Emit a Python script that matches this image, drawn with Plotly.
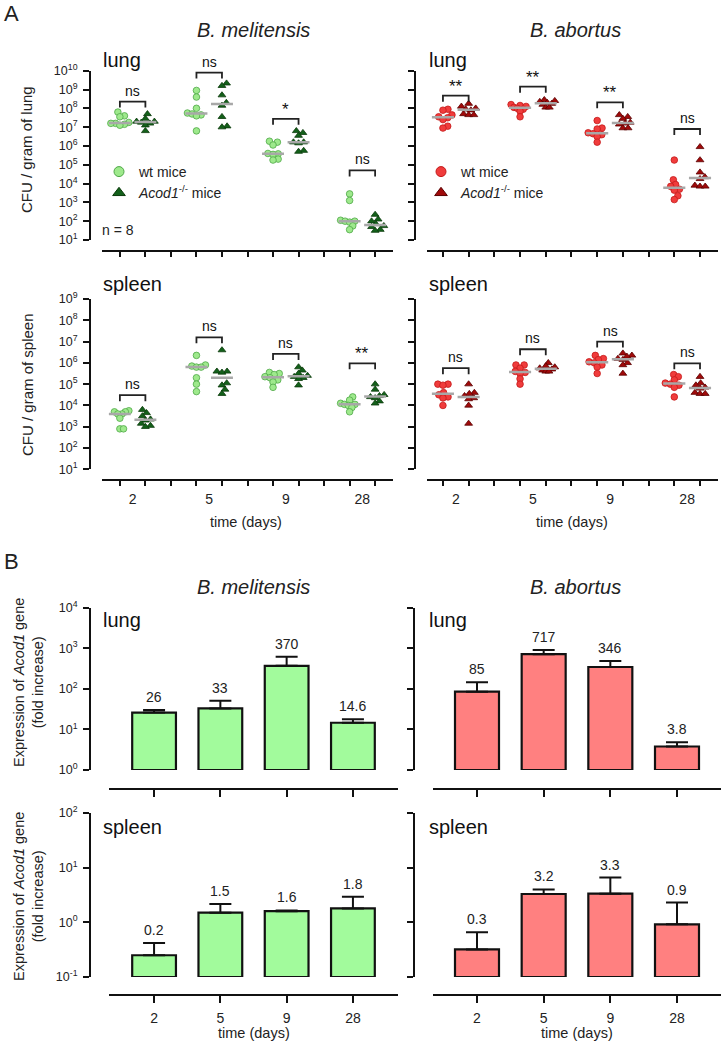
import numpy as np
import plotly.graph_objects as go

W, H = 726, 1043
FONT = "Liberation Sans, Arial, sans-serif"

# ---------------- DATA ----------------
days = ["2", "5", "9", "28"]

# Panel A: log10 CFU per gram, n = 8 per group (order: day 2, 5, 9, 28)
mel_lung_wt = [[7.8, 7.6, 7.55, 7.25, 7.2, 7.2, 7.15, 7.1],
               [8.95, 8.6, 8.0, 7.75, 7.7, 7.65, 7.6, 6.8],
               [6.25, 6.2, 6.05, 5.6, 5.58, 5.55, 5.3, 5.25],
               [3.45, 3.1, 2.05, 2.0, 2.0, 1.95, 1.75, 1.55]]
mel_lung_ko = [[7.7, 7.45, 7.3, 7.3, 7.25, 7.2, 7.1, 6.8],
               [9.33, 9.2, 8.7, 8.3, 8.15, 7.55, 7.05, 7.0],
               [6.8, 6.7, 6.55, 6.2, 6.2, 6.15, 5.75, 5.7],
               [2.35, 2.1, 2.0, 1.85, 1.75, 1.7, 1.55, 1.5]]
ab_lung_wt = [[7.95, 7.9, 7.65, 7.55, 7.5, 7.4, 7.05, 6.95],
              [8.2, 8.15, 8.1, 8.05, 8.0, 7.95, 7.85, 7.55],
              [7.35, 6.95, 6.9, 6.7, 6.65, 6.6, 6.5, 6.2],
              [5.25, 4.2, 3.95, 3.85, 3.7, 3.65, 3.35, 3.15]]
ab_lung_ko = [[8.25, 8.1, 8.0, 7.95, 7.9, 7.7, 7.65, 7.65],
              [8.45, 8.4, 8.35, 8.3, 8.25, 8.2, 8.05, 8.05],
              [7.65, 7.55, 7.45, 7.25, 7.2, 7.15, 6.95, 6.95],
              [5.95, 5.25, 4.6, 4.35, 4.25, 3.9, 3.85, 3.85]]
mel_spleen_wt = [[3.75, 3.7, 3.7, 3.6, 3.6, 3.4, 2.9, 2.9],
                 [6.35, 5.9, 5.85, 5.8, 5.8, 5.3, 5.0, 4.65],
                 [5.55, 5.5, 5.45, 5.35, 5.3, 5.2, 5.1, 4.85],
                 [4.4, 4.25, 4.1, 4.05, 4.05, 4.0, 3.9, 3.7]]
mel_spleen_ko = [[3.8, 3.65, 3.5, 3.35, 3.3, 3.15, 3.05, 3.0],
                 [6.6, 5.6, 5.6, 5.55, 5.05, 4.95, 4.75, 4.55],
                 [5.8, 5.65, 5.5, 5.4, 5.35, 5.3, 5.25, 4.95],
                 [5.0, 4.75, 4.5, 4.45, 4.4, 4.35, 4.2, 4.1]]
ab_spleen_wt = [[5.0, 5.0, 4.95, 4.6, 4.5, 4.4, 4.35, 4.0],
                [5.9, 5.9, 5.75, 5.6, 5.55, 5.5, 5.25, 5.0],
                [6.35, 6.2, 6.15, 6.05, 6.0, 5.9, 5.8, 5.5],
                [5.45, 5.35, 5.2, 5.05, 5.0, 4.95, 4.85, 4.4]]
ab_spleen_ko = [[5.0, 4.6, 4.55, 4.45, 4.35, 4.3, 4.0, 3.15],
                [6.0, 5.85, 5.8, 5.75, 5.7, 5.65, 5.6, 5.6],
                [6.45, 6.35, 6.3, 6.2, 6.15, 6.0, 5.9, 5.5],
                [5.35, 5.05, 4.95, 4.85, 4.8, 4.6, 4.55, 4.55]]

# significance labels and bracket heights (log10)
mel_lung_sig = ["ns", "ns", "*", "ns"]
ab_lung_sig = ["**", "**", "**", "ns"]
mel_spleen_sig = ["ns", "ns", "ns", "**"]
ab_spleen_sig = ["ns", "ns", "ns", "ns"]
mel_lung_brk = [8.36, 9.9, 7.44, 4.7]
ab_lung_brk = [8.67, 9.15, 8.32, 6.9]
mel_spleen_brk = [4.48, 7.2, 6.42, 5.98]
ab_spleen_brk = [5.75, 6.64, 7.0, 5.98]

# Panel B: Acod1 expression (fold increase), upper error bar tops, labels
mel_lung_fold = [26, 33, 370, 14.6]
mel_lung_err = [30, 51, 620, 17.8]
mel_lung_lbl = ["26", "33", "370", "14.6"]
ab_lung_fold = [85, 717, 346, 3.8]
ab_lung_err = [145, 910, 485, 4.8]
ab_lung_lbl = ["85", "717", "346", "3.8"]
mel_spleen_fold = [0.25, 1.5, 1.6, 1.8]
mel_spleen_err = [0.42, 2.17, 1.65, 2.95]
mel_spleen_lbl = ["0.2", "1.5", "1.6", "1.8"]
ab_spleen_fold = [0.32, 3.3, 3.35, 0.92]
ab_spleen_err = [0.66, 4.0, 6.6, 2.3]
ab_spleen_lbl = ["0.3", "3.2", "3.3", "0.9"]

# ---------------- STYLE ----------------
WT_G, WT_G_E = "#9ee98c", "#4fa848"
KO_G, KO_G_E = "#13601a", "#0a3a0a"
WT_R, WT_R_E = "#f03c3c", "#c41a1a"
KO_R, KO_R_E = "#a00a0a", "#5a0000"
BAR_G, BAR_R = "#a2fb9c", "#ff8080"
MED = "#a8a8a8"


def P(x):
    return x / W


def Q(y):
    return 1 - y / H


# panel geometry in pixels: x-domain, x-range, y-domain(top,bottom), log range, y-axis x, x-axis y
panels = {
    1: dict(xd=(102, 393), xr=(-0.7, 10.7), yd=(70.7, 240), yr=(1, 10), yx=90, xy=251),
    2: dict(xd=(427, 718), xr=(-0.62, 10.7), yd=(70.7, 240), yr=(1, 10), yx=415, xy=251),
    3: dict(xd=(102, 393), xr=(-0.7, 10.7), yd=(299, 469.3), yr=(1, 9), yx=90, xy=480),
    4: dict(xd=(427, 718), xr=(-0.62, 10.7), yd=(299, 469.3), yr=(1, 9), yx=415, xy=480),
    5: dict(xd=(109, 398), xr=(-0.68, 3.68), yd=(607.7, 770), yr=(0, 4), yx=90, xy=789),
    6: dict(xd=(433, 721), xr=(-0.66, 3.66), yd=(607.7, 770), yr=(0, 4), yx=414, xy=789),
    7: dict(xd=(109, 398), xr=(-0.68, 3.68), yd=(813, 977), yr=(-1, 2), yx=90, xy=995),
    8: dict(xd=(433, 721), xr=(-0.66, 3.66), yd=(813, 977), yr=(-1, 2), yx=414, xy=995),
}

fig = go.Figure()
ann = []


def ax_names(i):
    return ("x" if i == 1 else f"x{i}"), ("y" if i == 1 else f"y{i}")


def pxdec(i):
    p = panels[i]
    return (p["yd"][1] - p["yd"][0]) / (p["yr"][1] - p["yr"][0])


def xunit(i):
    p = panels[i]
    return (p["xd"][1] - p["xd"][0]) / (p["xr"][1] - p["xr"][0])


def swarm(vals, pd, diam, maxoff):
    y = np.asarray(vals, float) * pd
    order = np.argsort(y)
    xs = {}
    for i in order:
        cands = [0.0]
        for j, xj in xs.items():
            dy = y[i] - y[j]
            if abs(dy) < diam:
                dx = np.sqrt(diam ** 2 - dy ** 2)
                cands += [xj + dx, xj - dx]
        cands.sort(key=abs)
        for c in cands:
            if all((c - xj) ** 2 + (y[i] - y[j]) ** 2 >= diam ** 2 - 1e-6 for j, xj in xs.items()):
                xs[i] = c
                break
    off = np.array([xs[k] for k in range(len(y))])
    m = np.max(np.abs(off))
    if m > maxoff:
        off = off * maxoff / m
    return off


def cfu_panel(i, wt, ko, sig, brk, wtc, koc, legend):
    xa, ya = ax_names(i)
    pd, xu = pxdec(i), xunit(i)
    for g in range(4):
        for grp, pos, sym, (fc, ec) in ((wt[g], 3 * g, "circle", wtc), (ko[g], 3 * g + 1, "triangle-up", koc)):
            offs = swarm(grp, pd, 5.2, 9.0) / xu
            med = float(np.median(grp))
            fig.add_trace(go.Scatter(x=pos + offs, y=10 ** np.array(grp), mode="markers",
                                     marker=dict(symbol=sym, size=6.6 if sym == "circle" else 6.8,
                                                 color=fc, line=dict(color=ec, width=0.8)),
                                     xaxis=xa, yaxis=ya, showlegend=False))
            fig.add_trace(go.Scatter(x=[pos - 0.43, pos + 0.43], y=[10 ** med, 10 ** med], mode="lines",
                                     line=dict(color=MED, width=2.5), xaxis=xa, yaxis=ya,
                                     showlegend=False, hoverinfo="skip"))
        # bracket
        leg = 6 / pd
        b = brk[g]
        fig.add_trace(go.Scatter(x=[3 * g, 3 * g, 3 * g + 1, 3 * g + 1],
                                 y=10 ** np.array([b - leg, b, b, b - leg]), mode="lines",
                                 line=dict(color="#222", width=1.8), xaxis=xa, yaxis=ya,
                                 showlegend=False, hoverinfo="skip", cliponaxis=False))
        ann.append(dict(x=3 * g + 0.5, y=b, xref=xa, yref=ya, text=sig[g], showarrow=False,
                        yanchor="bottom", yshift=(-2 if "*" in sig[g] else 1),
                        font=dict(size=17 if "*" in sig[g] else 14, color="#111", family=FONT)))
    if legend:
        lg, wtname, koname = legend
        fig.add_trace(go.Scatter(x=[None], y=[None], mode="markers", name=wtname,
                                 marker=dict(symbol="circle", size=10, color=wtc[0], line=dict(color=wtc[1], width=1)),
                                 xaxis=xa, yaxis=ya, legend=lg))
        fig.add_trace(go.Scatter(x=[None], y=[None], mode="markers", name=koname,
                                 marker=dict(symbol="triangle-up", size=11, color=koc[0], line=dict(color=koc[1], width=1)),
                                 xaxis=xa, yaxis=ya, legend=lg))


def bar_panel(i, vals, errs, lbls, color):
    xa, ya = ax_names(i)
    base = 10 ** panels[i]["yr"][0]
    xs = list(range(len(vals)))
    fig.add_trace(go.Bar(x=xs, y=[v - base for v in vals], base=[base] * len(vals), width=0.66,
                         marker=dict(color=color, line=dict(color="#111", width=2.2)),
                         xaxis=xa, yaxis=ya, showlegend=False))
    fig.add_trace(go.Scatter(x=xs, y=vals, mode="markers", marker=dict(size=1, color="rgba(0,0,0,0)"),
                             error_y=dict(type="data", symmetric=False,
                                          array=[e - v for e, v in zip(errs, vals)],
                                          arrayminus=[0] * len(vals), color="#111", thickness=2, width=11),
                             xaxis=xa, yaxis=ya, showlegend=False, cliponaxis=False))
    for x, e, t in zip(xs, errs, lbls):
        ann.append(dict(x=x, y=float(np.log10(e)), xref=xa, yref=ya, text=t, showarrow=False,
                        yanchor="bottom", yshift=3, font=dict(size=14, color="#222", family=FONT)))


cfu_panel(1, mel_lung_wt, mel_lung_ko, mel_lung_sig, mel_lung_brk, (WT_G, WT_G_E), (KO_G, KO_G_E),
          ("legend", "wt mice", "<i>Acod1</i><sup>-/-</sup> mice"))
cfu_panel(2, ab_lung_wt, ab_lung_ko, ab_lung_sig, ab_lung_brk, (WT_R, WT_R_E), (KO_R, KO_R_E),
          ("legend2", "wt mice", "<i>Acod1</i><sup>-/-</sup> mice"))
cfu_panel(3, mel_spleen_wt, mel_spleen_ko, mel_spleen_sig, mel_spleen_brk, (WT_G, WT_G_E), (KO_G, KO_G_E), None)
cfu_panel(4, ab_spleen_wt, ab_spleen_ko, ab_spleen_sig, ab_spleen_brk, (WT_R, WT_R_E), (KO_R, KO_R_E), None)
bar_panel(5, mel_lung_fold, mel_lung_err, mel_lung_lbl, BAR_G)
bar_panel(6, ab_lung_fold, ab_lung_err, ab_lung_lbl, BAR_R)
bar_panel(7, mel_spleen_fold, mel_spleen_err, mel_spleen_lbl, BAR_G)
bar_panel(8, ab_spleen_fold, ab_spleen_err, ab_spleen_lbl, BAR_R)

# ---------------- AXES ----------------
lay = {}
for i, p in panels.items():
    xk = "xaxis" if i == 1 else f"xaxis{i}"
    yk = "yaxis" if i == 1 else f"yaxis{i}"
    lo, hi = p["yr"]
    exps = list(range(lo, hi + 1))
    left = i % 2 == 1
    yax = dict(type="log", range=[lo, hi], domain=[Q(p["yd"][1]), Q(p["yd"][0])],
               anchor="free", position=P(p["yx"]), showline=True, linecolor="#111", linewidth=2,
               ticks="outside", ticklen=6, tickwidth=2, tickcolor="#111", showgrid=False, zeroline=False,
               tickvals=[10.0 ** e for e in exps], ticktext=[f"10<sup>{e}</sup>" for e in exps],
               showticklabels=left, ticklabelstandoff=3, automargin=False,
               tickfont=dict(size=12.5, color="#222", family=FONT))
    xax = dict(range=list(p["xr"]), domain=[P(p["xd"][0]), P(p["xd"][1])], anchor="free",
               position=Q(p["xy"]), showline=True, linecolor="#111", linewidth=2, showgrid=False,
               zeroline=False, tickfont=dict(size=14, color="#222", family=FONT), tickcolor="#111",
               tickwidth=2, ticklen=6, ticks="outside", automargin=False)
    if i in (1, 2):
        xax.update(tickvals=list(range(11)), showticklabels=False, ticklen=5)
    elif i in (3, 4):
        xax.update(tickvals=[0.5, 3.5, 6.5, 9.5], ticktext=days, tickcolor="rgba(0,0,0,0)", ticklen=6,
                   minor=dict(tickmode="linear", tick0=0, dtick=1, ticks="outside", ticklen=5,
                              tickwidth=2, tickcolor="#111"))
    elif i in (5, 6):
        xax.update(tickvals=[0, 1, 2, 3], showticklabels=False, ticklen=7)
    else:
        xax.update(tickvals=[0, 1, 2, 3], ticktext=days, ticklen=7, ticklabelstandoff=3)
    lay[xk] = xax
    lay[yk] = yax

# ---------------- TEXT ----------------


def A(x, y, text, size=13, xanchor="center", yanchor="middle", angle=0, color="#222"):
    ann.append(dict(x=P(x), y=Q(y), xref="paper", yref="paper", text=text, showarrow=False,
                    xanchor=xanchor, yanchor=yanchor, textangle=angle,
                    font=dict(size=size, color=color, family=FONT)))


A(2, 14, "A", 22, xanchor="left")
A(2, 561, "B", 22, xanchor="left")
for yy in (30, 587):
    A(253, yy, "<i>B. melitensis</i>", 20)
    A(575, yy, "<i>B. abortus</i>", 20)
for (x, y, t) in ((101, 60, "lung"), (427, 60, "lung"), (101, 284, "spleen"), (427, 284, "spleen"),
                  (101, 620, "lung"), (427, 620, "lung"), (101, 827, "spleen"), (427, 827, "spleen")):
    A(x, y, t, 20, xanchor="left", color="#111")
A(100, 230, "n = 8", 14, xanchor="left")
A(27, 150, "CFU / gram of lung", 15, angle=-90)
A(27, 385, "CFU / gram of spleen", 15, angle=-90)
A(28, 683, "Expression of <i>Acod1</i> gene<br>(fold increase)", 14.5, angle=-90)
A(28, 897, "Expression of <i>Acod1</i> gene<br>(fold increase)", 14.5, angle=-90)
A(246, 522, "time (days)", 14.5)
A(572, 522, "time (days)", 14.5)
A(254, 1043, "time (days)", 14.5, yanchor="bottom")
A(577, 1043, "time (days)", 14.5, yanchor="bottom")

leg_common = dict(xanchor="left", yanchor="top", bgcolor="rgba(0,0,0,0)",
                  font=dict(size=14, color="#222", family=FONT), itemwidth=30)

fig.update_layout(
    width=W, height=H, margin=dict(l=0, r=0, t=0, b=0, pad=0, autoexpand=False),
    paper_bgcolor="white", plot_bgcolor="white",
    font=dict(family=FONT, color="#222"),
    barmode="overlay", annotations=ann,
    legend=dict(x=P(99), y=Q(156), **leg_common),
    legend2=dict(x=P(421), y=Q(156), **leg_common),
    **lay,
)

fig.write_html("out.html", config={"displayModeBar": False},
               post_script=("document.body.style.margin='0';document.body.style.padding='0';"
                            "document.body.style.height='1043px';document.body.style.overflow='hidden';"
                            "document.documentElement.style.overflow='hidden';"))
